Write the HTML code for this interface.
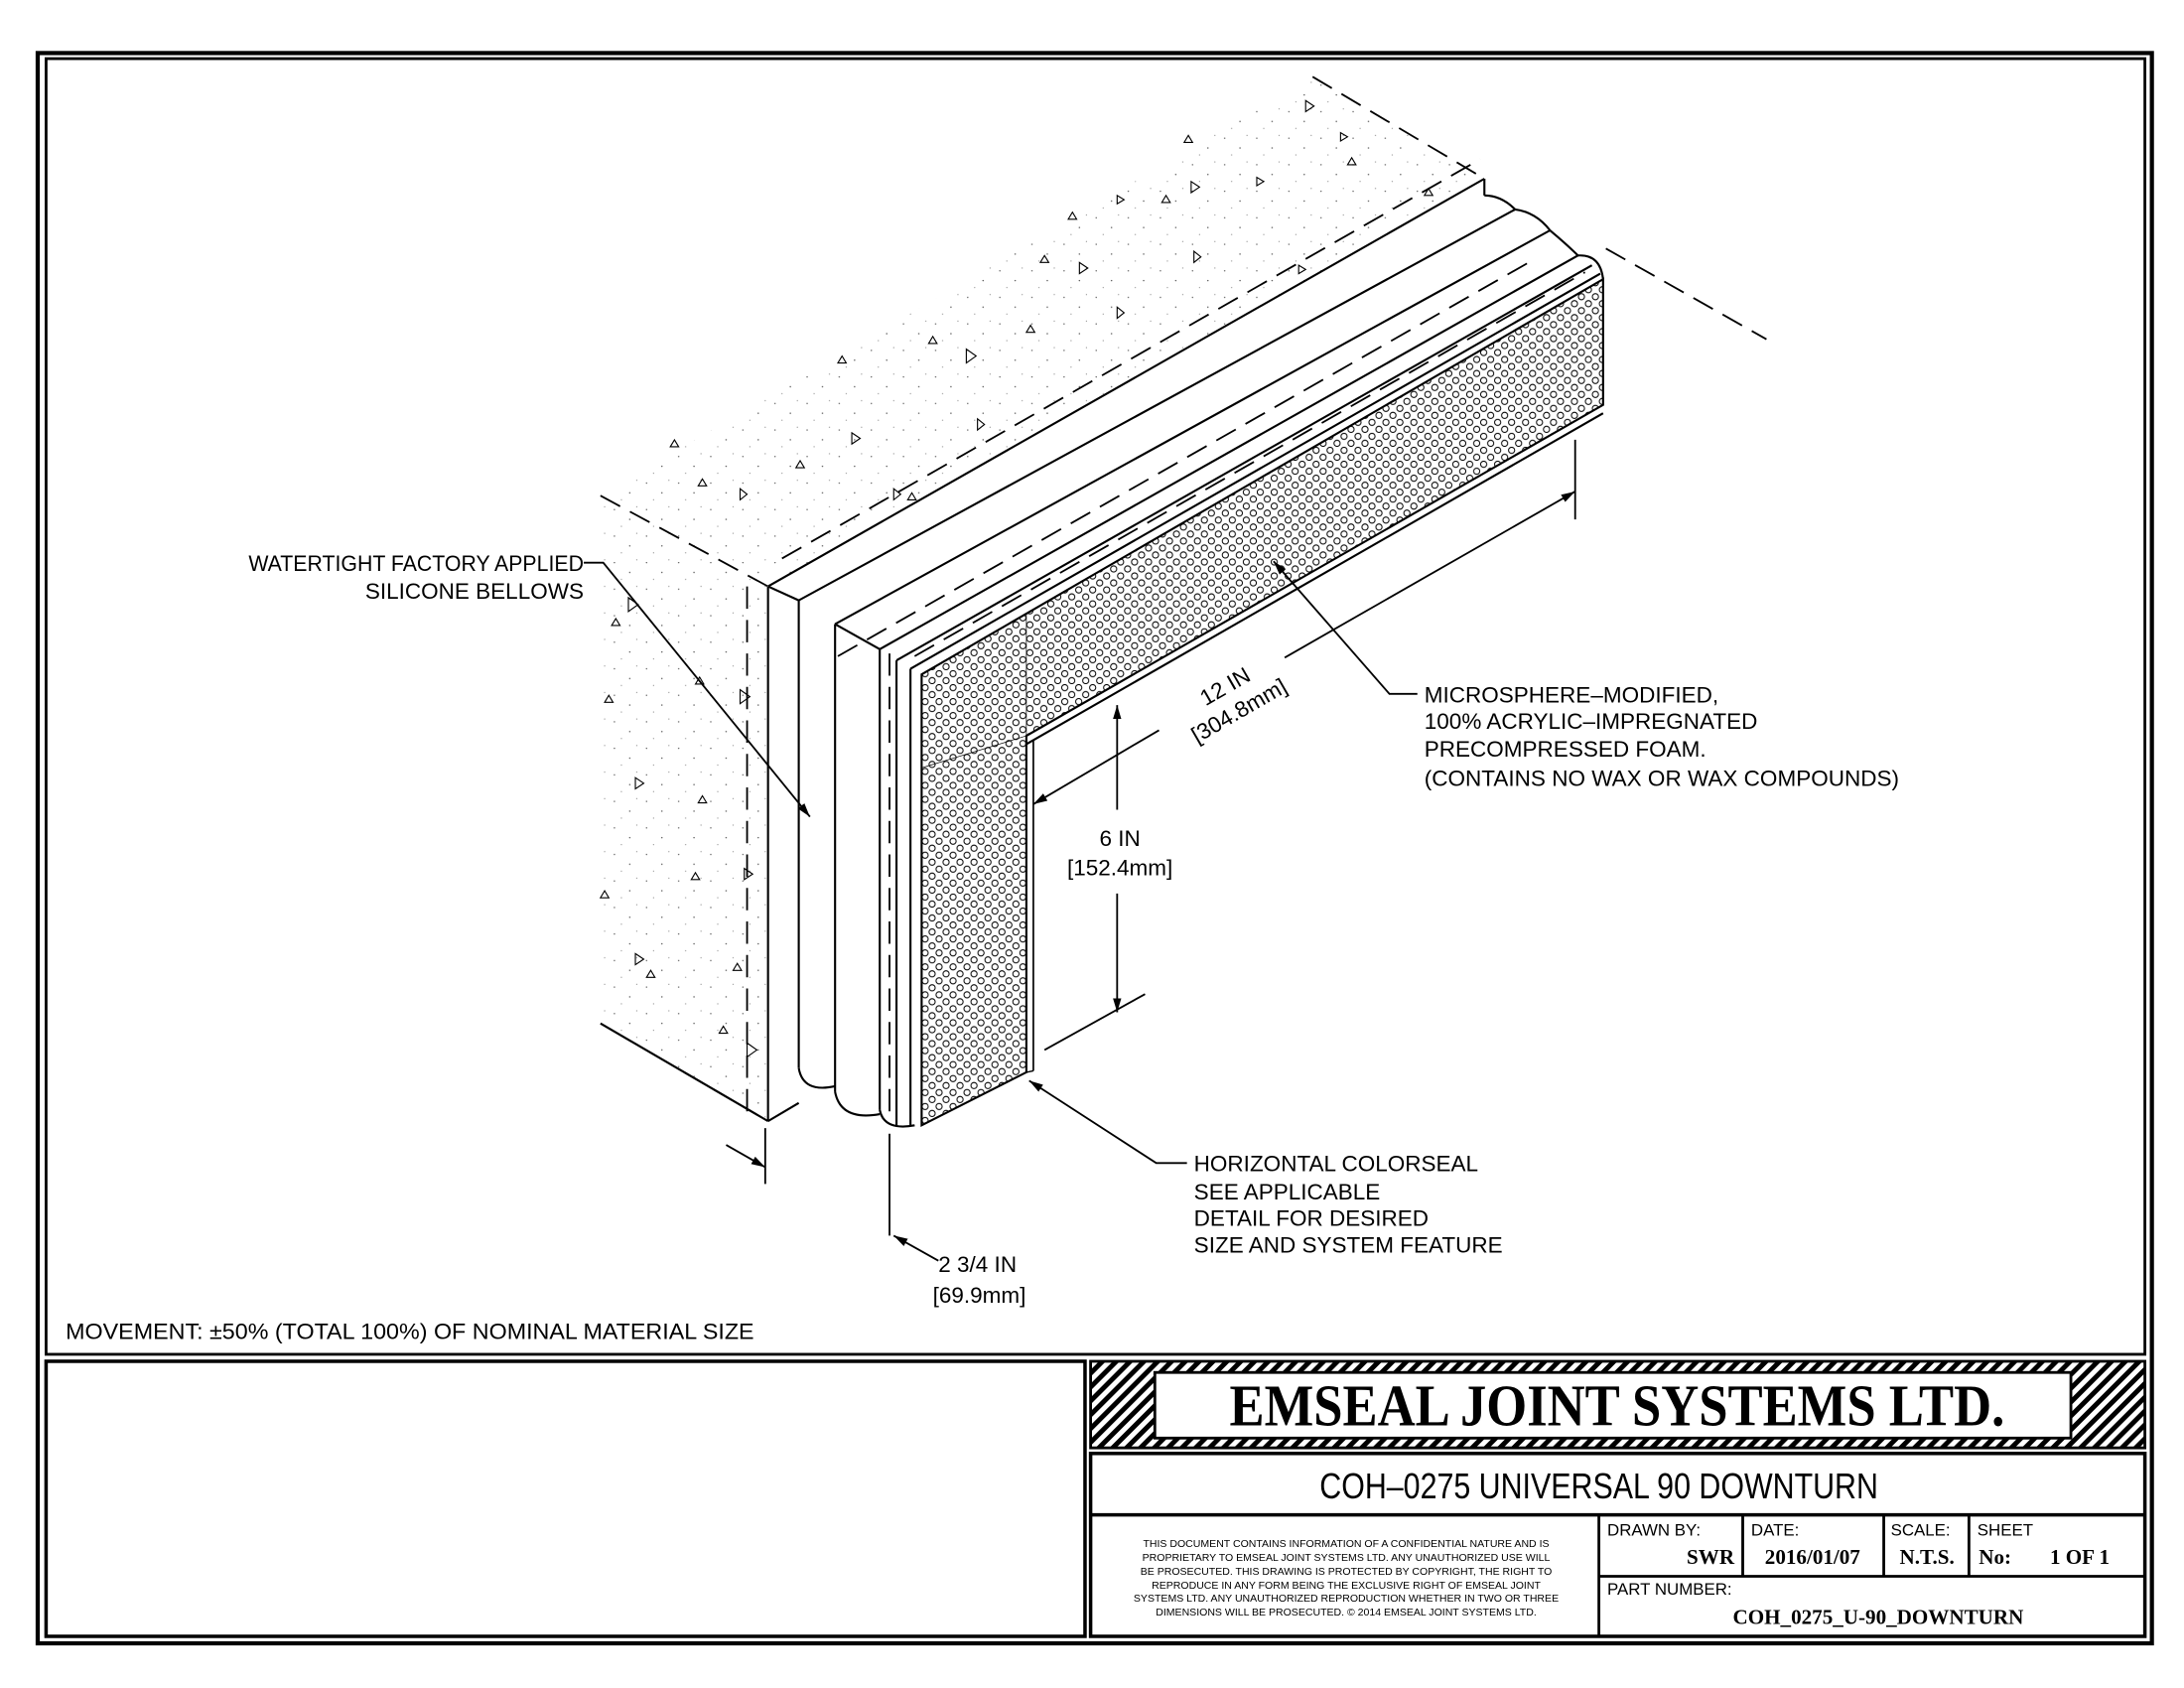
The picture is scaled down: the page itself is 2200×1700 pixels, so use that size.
<!DOCTYPE html>
<html><head><meta charset="utf-8"><style>
html,body{margin:0;padding:0;background:#fff}
svg{display:block}
text{font-family:"Liberation Sans",sans-serif;fill:#000}
.s{font-family:"Liberation Serif",serif}
</style></head><body>
<svg width="2200" height="1700" viewBox="0 0 1564 1209" preserveAspectRatio="none" xmlns="http://www.w3.org/2000/svg">
<defs>
<pattern id="foam" width="10" height="10" patternUnits="userSpaceOnUse">
<circle cx="2.5" cy="2.5" r="2.2" fill="none" stroke="#000" stroke-width="0.7"/>
<circle cx="7.5" cy="7.5" r="2.2" fill="none" stroke="#000" stroke-width="0.7"/>
</pattern>
<pattern id="hatch" width="7" height="7" patternUnits="userSpaceOnUse" patternTransform="rotate(45)">
<rect width="3.5" height="7" fill="#000"/>
</pattern>
<pattern id="stip" width="23" height="19" patternUnits="userSpaceOnUse">
<circle cx="3" cy="4" r="0.5" fill="#555"/><circle cx="14" cy="11" r="0.5" fill="#555"/><circle cx="19" cy="2" r="0.4" fill="#777"/><circle cx="8" cy="16" r="0.4" fill="#777"/>
</pattern>
<marker id="ar" markerWidth="10" markerHeight="6" refX="10" refY="3" orient="auto" markerUnits="userSpaceOnUse"><path d="M0,0 L10,3 L0,6 Z" fill="#000"/></marker>
</defs>
<rect width="1564" height="1209" fill="#fff"/>
<!-- borders -->
<rect x="27" y="38" width="1514" height="1139" fill="none" stroke="#000" stroke-width="3"/>
<rect x="33" y="42" width="1503" height="928" fill="none" stroke="#000" stroke-width="2"/>
<rect x="33" y="975" width="744" height="197" fill="none" stroke="#000" stroke-width="2.5"/>
<rect x="781" y="975" width="755" height="62" fill="url(#hatch)" stroke="#000" stroke-width="2"/>
<rect x="827" y="983" width="656" height="47" fill="#fff" stroke="#000" stroke-width="2"/>
<text class="s" x="1158" y="1021" font-size="42" font-weight="bold" text-anchor="middle" textLength="555" lengthAdjust="spacingAndGlyphs">EMSEAL JOINT SYSTEMS LTD.</text>
<rect x="781" y="1041" width="755" height="131" fill="none" stroke="#000" stroke-width="2.5"/>
<line x1="781" y1="1085" x2="1536" y2="1085" stroke="#000" stroke-width="2.5"/>
<text x="1145" y="1073" font-size="26" text-anchor="middle" textLength="400" lengthAdjust="spacingAndGlyphs">COH–0275 UNIVERSAL 90 DOWNTURN</text>
<line x1="1145" y1="1085" x2="1145" y2="1172" stroke="#000" stroke-width="2"/>
<line x1="1248" y1="1085" x2="1248" y2="1129" stroke="#000" stroke-width="2"/>
<line x1="1349" y1="1085" x2="1349" y2="1129" stroke="#000" stroke-width="2"/>
<line x1="1410" y1="1085" x2="1410" y2="1129" stroke="#000" stroke-width="2"/>
<line x1="1145" y1="1129" x2="1536" y2="1129" stroke="#000" stroke-width="2"/>
<g font-size="7.5" text-anchor="middle">
<text x="964" y="1108">THIS DOCUMENT CONTAINS INFORMATION OF A CONFIDENTIAL NATURE AND IS</text>
<text x="964" y="1118">PROPRIETARY TO EMSEAL JOINT SYSTEMS LTD. ANY UNAUTHORIZED USE WILL</text>
<text x="964" y="1128">BE PROSECUTED. THIS DRAWING IS PROTECTED BY COPYRIGHT, THE RIGHT TO</text>
<text x="964" y="1138">REPRODUCE IN ANY FORM BEING THE EXCLUSIVE RIGHT OF EMSEAL JOINT</text>
<text x="964" y="1147">SYSTEMS LTD. ANY UNAUTHORIZED REPRODUCTION WHETHER IN TWO OR THREE</text>
<text x="964" y="1157">DIMENSIONS WILL BE PROSECUTED. © 2014 EMSEAL JOINT SYSTEMS LTD.</text>
</g>
<g font-size="12">
<text x="1151" y="1100">DRAWN BY:</text><text x="1254" y="1100">DATE:</text><text x="1354" y="1100">SCALE:</text><text x="1416" y="1100">SHEET</text>
<text x="1151" y="1142">PART NUMBER:</text>
</g>
<g class="s" font-size="15" font-weight="bold">
<text class="s" x="1242" y="1120" text-anchor="end">SWR</text>
<text class="s" x="1298" y="1120" text-anchor="middle">2016/01/07</text>
<text class="s" x="1380" y="1120" text-anchor="middle">N.T.S.</text>
<text class="s" x="1417" y="1120">No:</text><text class="s" x="1468" y="1120">1 OF 1</text>
<text class="s" x="1345" y="1163" text-anchor="middle">COH_0275_U-90_DOWNTURN</text>
</g>
<!-- concrete -->
<polygon points="430,355 550,420 1063,128 940,55" fill="url(#stip)"/>
<polygon points="430,355 550,420 550,803 430,733" fill="url(#stip)"/>
<g fill="none" stroke="#000" stroke-width="1.5">
<line x1="550" y1="420" x2="550" y2="803"/>
<line x1="550" y1="420" x2="1063" y2="128"/>
<line x1="430" y1="733" x2="550" y2="803"/>
<line x1="550" y1="803" x2="572" y2="790"/>
<line x1="1063" y1="128" x2="1063" y2="140"/>
<line x1="550" y1="420" x2="572" y2="430"/>
<line x1="572" y1="430" x2="1085" y2="150"/>
<line x1="572" y1="430" x2="572" y2="765"/>
<path d="M572,765 Q575,783 598,778"/>
<line x1="598" y1="447" x2="1110" y2="165"/>
<line x1="598" y1="447" x2="598" y2="782"/>
<path d="M598,782 Q602,803 630,798"/>
<line x1="598" y1="447" x2="630" y2="465"/>
<path d="M1063,140 Q1075,140 1085,150"/>
<path d="M1085,150 Q1100,152 1110,165"/>
<line x1="630" y1="465" x2="1130" y2="183"/>
<line x1="630" y1="465" x2="630" y2="795"/>
<path d="M630,795 Q633,810 655,806"/>
<line x1="642" y1="473" x2="1140" y2="190"/>
<line x1="642" y1="473" x2="642" y2="806"/>
<line x1="652" y1="479" x2="1146" y2="196"/>
<line x1="652" y1="479" x2="652" y2="806"/>
<path d="M1110,165 Q1122,175 1130,183"/>
<path d="M1130,183 Q1146,182 1148,200"/>
</g>
<!-- foam -->
<polygon points="660,483 1148,200 1148,290 735,527 735,768 660,806" fill="url(#foam)" stroke="#000" stroke-width="1.5"/>
<line x1="735" y1="533" x2="1148" y2="296" stroke="#000" stroke-width="1.5"/>
<line x1="740" y1="530" x2="740" y2="767" stroke="#000" stroke-width="1.2"/>
<line x1="735" y1="768" x2="740" y2="767" stroke="#000"/>
<line x1="660" y1="550" x2="735" y2="527" stroke="#000" stroke-width="0.5"/>
<line x1="735" y1="440" x2="735" y2="527" stroke="#000" stroke-width="0.5"/>
<!-- dashed -->
<g fill="none" stroke="#000" stroke-width="1.3" stroke-dasharray="16,8">
<line x1="430" y1="355" x2="550" y2="420"/>
<line x1="940" y1="55" x2="1063" y2="128"/>
<line x1="560" y1="400" x2="1060" y2="114"/>
<line x1="1150" y1="178" x2="1265" y2="243"/>
<line x1="535" y1="420" x2="535" y2="800"/>
<line x1="637" y1="468" x2="637" y2="800"/>
<line x1="600" y1="470" x2="1100" y2="185"/>
<line x1="655" y1="470" x2="1135" y2="195"/>
<line x1="490" y1="768" x2="550" y2="803"/>
</g>
<!-- triangles -->
<g fill="none" stroke="#000" stroke-width="0.8">
<path d="M935,72 l6,4 -6,4z M853,130 l6,4 -6,4z M773,188 l6,4 -6,4z M692,250 l7,5 -7,5z M610,310 l6,4 -6,4z M530,350 l5,4 -5,4z M450,428 l7,5 -7,5z M530,494 l7,5 -7,5z M455,557 l6,4 -6,4z M533,622 l6,4 -6,4z M455,683 l6,4 -6,4z M535,747 l7,5 -7,5z M800,220 l5,4 -5,4z M700,300 l5,4 -5,4z M640,350 l5,4 -5,4z M960,95 l5,3 -5,3z M900,127 l5,3 -5,3z M930,190 l5,3 -5,3z M855,180 l5,4 -5,4z M800,140 l5,3 -5,3z"/>
<path d="M848,102 l3,-5 3,5z M765,157 l3,-5 3,5z M665,246 l3,-5 3,5z M600,260 l3,-5 3,5z M570,335 l3,-5 3,5z M500,348 l3,-5 3,5z M480,320 l3,-5 3,5z M438,448 l3,-5 3,5z M433,503 l3,-5 3,5z M500,575 l3,-5 3,5z M495,630 l3,-5 3,5z M430,643 l3,-5 3,5z M525,695 l3,-5 3,5z M515,740 l3,-5 3,5z M735,238 l3,-5 3,5z M832,145 l3,-5 3,5z M965,118 l3,-5 3,5z M1020,140 l3,-5 3,5z M745,188 l3,-5 3,5z M650,358 l3,-5 3,5z M463,700 l3,-5 3,5z M498,490 l3,-5 3,5z"/>
</g>
<!-- dimensions -->
<g stroke="#000" stroke-width="1.3" fill="none">
<line x1="1128" y1="315" x2="1128" y2="372"/>
<line x1="920" y1="471" x2="1128" y2="352" marker-end="url(#ar)"/>
<line x1="830" y1="523" x2="740" y2="576" marker-end="url(#ar)"/>
<line x1="800" y1="580" x2="800" y2="505" marker-end="url(#ar)"/>
<line x1="800" y1="640" x2="800" y2="725" marker-end="url(#ar)"/>
<line x1="748" y1="752" x2="820" y2="712"/>
<line x1="548" y1="808" x2="548" y2="848"/>
<line x1="637" y1="812" x2="637" y2="885"/>
<line x1="520" y1="820" x2="548" y2="836" marker-end="url(#ar)"/>
<line x1="672" y1="903" x2="640" y2="885" marker-end="url(#ar)"/>
<polyline points="418,403 432,403 580,585" marker-end="url(#ar)"/>
<polyline points="1015,497 995,497 912,402" marker-end="url(#ar)"/>
<polyline points="850,833 828,833 737,774" marker-end="url(#ar)"/>
</g>
<g font-size="16">
<text x="418" y="409" text-anchor="end" textLength="240" lengthAdjust="spacingAndGlyphs">WATERTIGHT FACTORY APPLIED</text>
<text x="418" y="429" text-anchor="end">SILICONE BELLOWS</text>
<text x="1020" y="503">MICROSPHERE–MODIFIED,</text>
<text x="1020" y="522">100% ACRYLIC–IMPREGNATED</text>
<text x="1020" y="542">PRECOMPRESSED FOAM.</text>
<text x="1020" y="563" textLength="340" lengthAdjust="spacingAndGlyphs">(CONTAINS NO WAX OR WAX COMPOUNDS)</text>
<text x="855" y="839">HORIZONTAL COLORSEAL</text>
<text x="855" y="859">SEE APPLICABLE</text>
<text x="855" y="878">DETAIL FOR DESIRED</text>
<text x="855" y="897">SIZE AND SYSTEM FEATURE</text>
<text x="802" y="606" text-anchor="middle">6 IN</text>
<text x="802" y="627" text-anchor="middle">[152.4mm]</text>
<text x="672" y="911">2 3/4 IN</text>
<text x="668" y="933">[69.9mm]</text>
<text x="47" y="959" textLength="493" lengthAdjust="spacingAndGlyphs">MOVEMENT: ±50% (TOTAL 100%) OF NOMINAL MATERIAL SIZE</text>
<g transform="translate(885,505) rotate(-30)">
<text x="0" y="-10" text-anchor="middle">12 IN</text>
<text x="0" y="10" text-anchor="middle">[304.8mm]</text>
</g>
</g>
</svg>
</body></html>
